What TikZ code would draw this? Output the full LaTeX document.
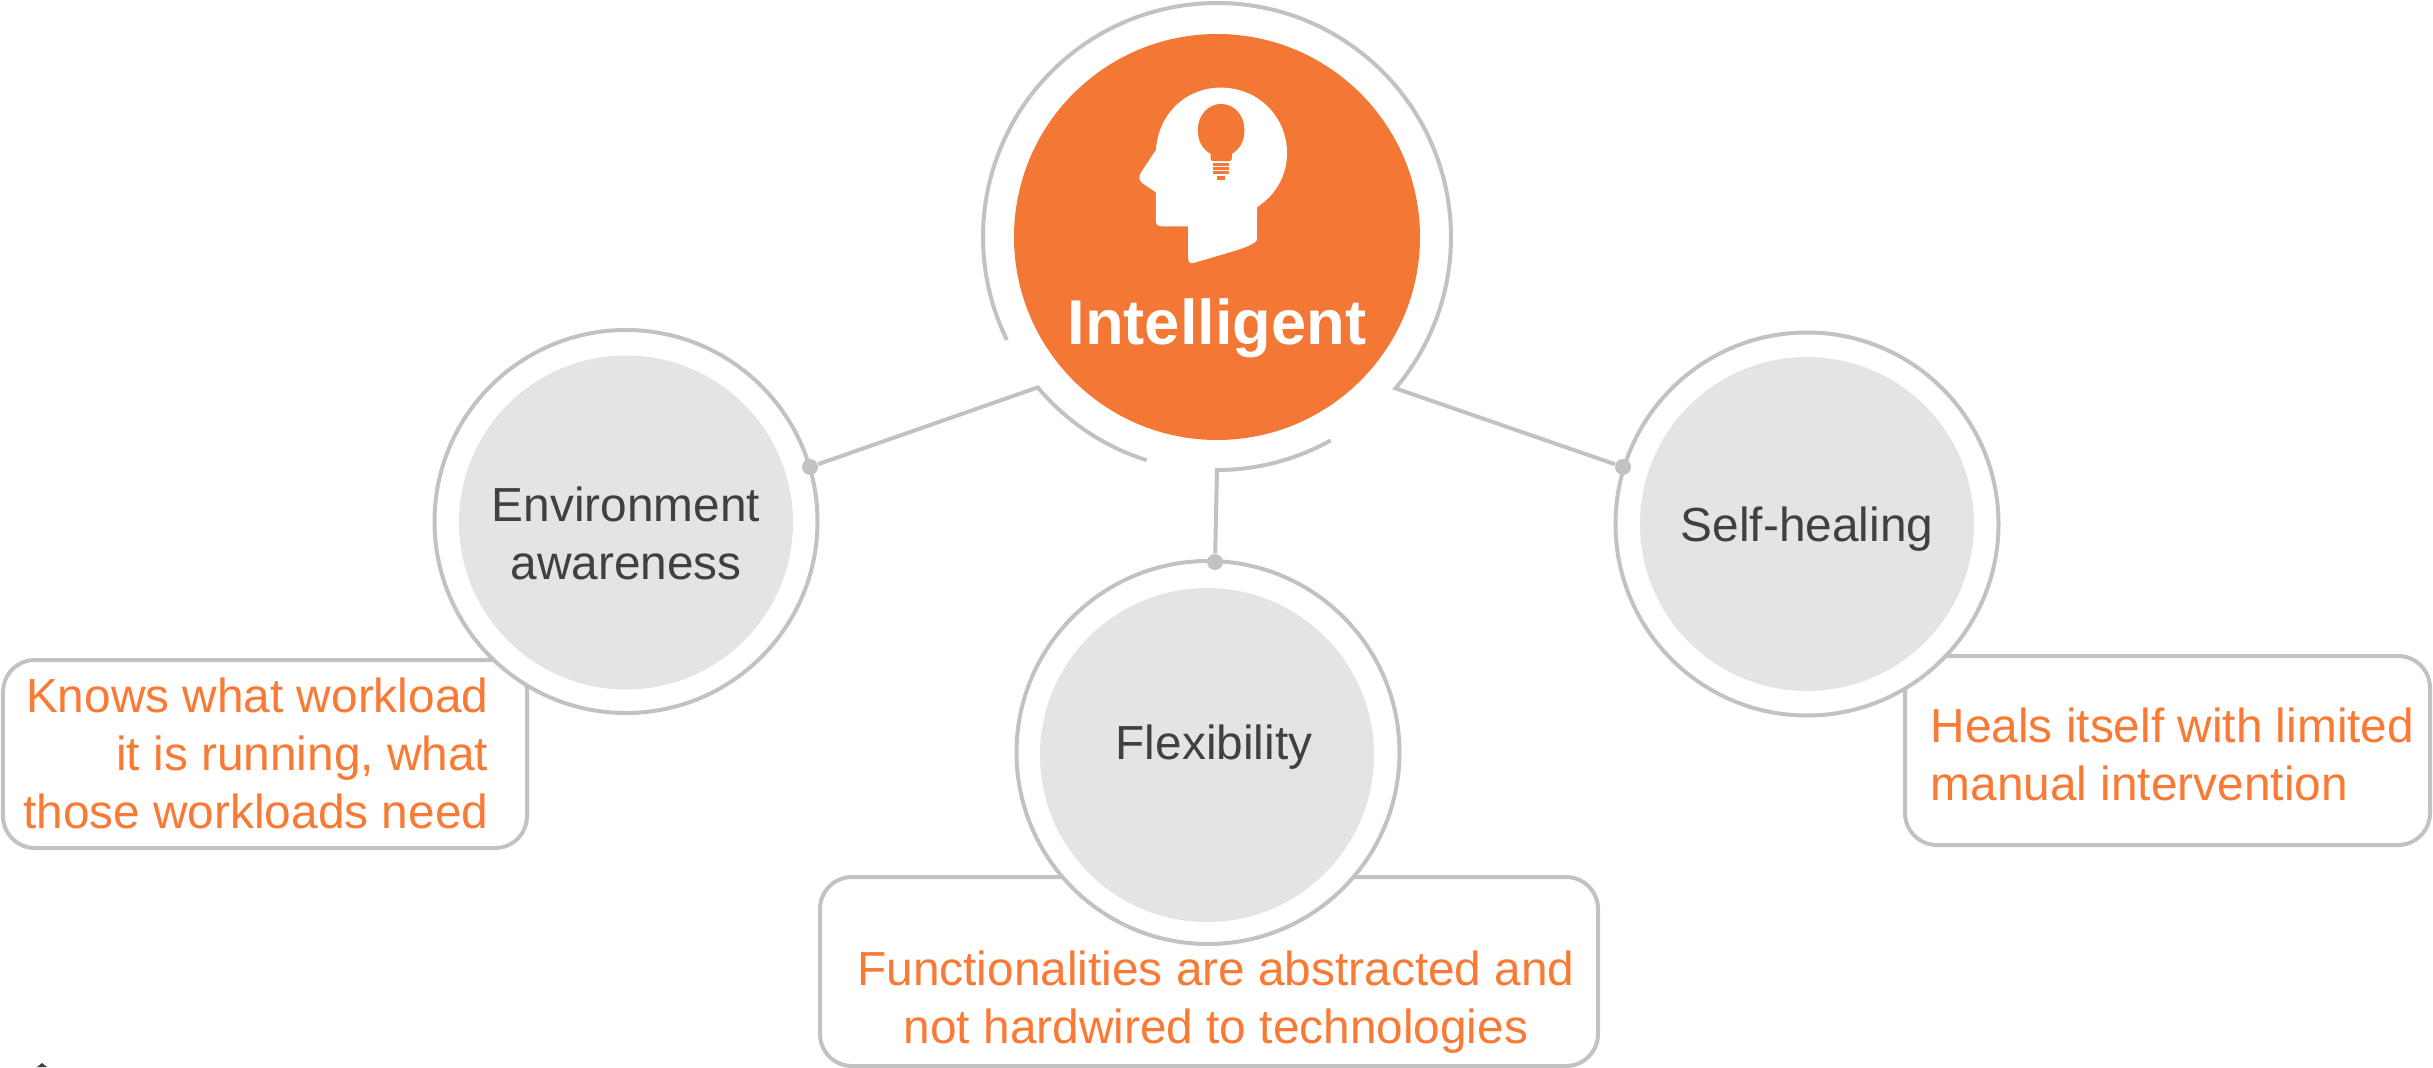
\documentclass[tikz,border=0pt]{standalone}
\usepackage{fontspec}
\setmainfont{Liberation Sans}
\usetikzlibrary{positioning}
\definecolor{mainorange}{HTML}{F37735}
\definecolor{textorange}{HTML}{F97A35}
\definecolor{ringgray}{HTML}{C2C2C2}
\definecolor{discgray}{HTML}{E4E4E4}
\definecolor{labelgray}{HTML}{404040}

\begin{document}
\begin{tikzpicture}[ringnode/.style={circle, draw=ringgray, line width=0.04cm, fill=white, minimum size=3.83cm, inner sep=0pt},
  discnode/.style={circle, fill=discgray, minimum size=3.34cm, inner sep=0pt},
  boxnode/.style={rectangle, rounded corners=0.32cm, draw=ringgray, line width=0.04cm, fill=white, inner sep=0pt},
  dotnode/.style={circle, fill=ringgray, minimum size=0.16cm, inner sep=0pt},
  labelnode/.style={font=\fontsize{13.6}{16.5}\selectfont, text=labelgray, align=center, inner sep=0pt},
  boxtext/.style={font=\fontsize{13.6}{16.5}\selectfont, text=textorange, inner sep=0pt},
  wire/.style={draw=ringgray, line width=0.04cm}]

  \useasboundingbox (0,0) rectangle (24.33,10.67);

  \node[circle, fill=mainorange, minimum size=4.06cm, inner sep=0pt] (main) at (12.17,8.30) {};
  \node[font=\fontsize{18}{20}\selectfont\bfseries, text=white, inner sep=0pt, anchor=base] (title) at (12.17,7.23) {Intelligent};

  \node[boxnode, minimum width=5.24cm, minimum height=1.88cm] (envbox) at (2.65,3.13) {};
  \node[boxnode, minimum width=7.78cm, minimum height=1.89cm] (flexbox) at (12.09,0.955) {};
  \node[boxnode, minimum width=5.25cm, minimum height=1.89cm] (selfbox) at (21.675,3.165) {};

  \node[ringnode] (envring) [on grid, below left = 2.845cm and 5.91cm of main]{};
  \node[ringnode] (flexring) [on grid, below left = 5.155cm and 0.09cm of main]{};
  \node[ringnode] (selfring) [on grid, below right = 2.87cm and 5.90cm of main]{};
  \node[discnode] (envdisc) at ([yshift=-0.01cm]envring) {};
  \node[discnode] (flexdisc) at ([xshift=-0.01cm,yshift=-0.025cm]flexring) {};
  \node[discnode] (selfdisc) at (selfring) {};

  \node[labelnode, anchor=base] (envlabel) at (6.26,4.88) {Environment\\awareness};
  \node[labelnode, anchor=base] (flexlabel) at (12.14,3.075) {Flexibility};
  \node[labelnode, anchor=base] (selflabel) at (18.07,5.26) {Self-healing};

  \node[boxtext, align=right, anchor=east] (envtext) at (4.89,3.14) {Knows what workload\\it is running, what\\those workloads need};
  \node[boxtext, align=center, anchor=north] (flextext) at (12.16,1.17) {Functionalities are abstracted and\\not hardwired to technologies};
  \node[boxtext, align=left, anchor=west] (selftext) at (19.30,3.125) {Heals itself with limited\\manual intervention};

  \node[dotnode] (envdot) at (8.10,6.00) {};
  \node[dotnode] (flexdot) at (12.15,5.05) {};
  \node[dotnode] (selfdot) at (16.23,6.00) {};
  \coordinate (envjoin) at ([shift={(220:2.34)}]main.center);
  \coordinate (flexjoin) at ([shift={(-90:2.33)}]main.center);
  \coordinate (selfjoin) at ([shift={(-40.3:2.34)}]main.center);

  \draw[wire] (envdot) -- (envjoin) arc[start angle=220, end angle=252.5, radius=2.34cm];
  \draw[wire] (flexdot) -- (flexjoin) arc[start angle=-90, end angle=-60.8, radius=2.33cm];
  \draw[wire] (selfdot) -- (selfjoin) arc[start angle=-40.3, end angle=206.1, radius=2.34cm];

  \begin{scope}[shift={(11.30cm,9.97cm)}, x=0.00333cm, y=-0.00333cm]
    \fill[white] (382,412) .. controls (440,375) and (472,315) .. (472,250)
      .. controls (472,140) and (385,53) .. (273,53)
      .. controls (165,53) and (85,135) .. (78,240)
      -- (32,310) .. controls (25,322) and (28,333) .. (37,340)
      -- (78,368) -- (78,455) .. controls (78,465) and (85,470) .. (95,470)
      -- (175,470) -- (175,568) .. controls (175,578) and (183,583) .. (192,580)
      -- (300,548) .. controls (340,536) and (365,528) .. (381,513) -- cycle;
    \fill[mainorange] (242,252) -- (242,266) .. controls (242,271) and (245,274) .. (250,274)
      -- (298,274) .. controls (303,274) and (306,271) .. (306,266) -- (306,252)
      .. controls (330,238) and (344,215) .. (344,180)
      .. controls (344,135) and (312,102) .. (274,102)
      .. controls (236,102) and (204,135) .. (204,180)
      .. controls (204,215) and (218,238) .. (242,252) -- cycle;
    \fill[mainorange] (250,281) rectangle (298,288);
    \fill[mainorange] (250,293) rectangle (298,300);
    \fill[mainorange] (250,305) rectangle (298,313);
    \fill[mainorange] (262,320) rectangle (286,330);
  \end{scope}

  \fill[labelgray] (0.42,0.04) -- (0.37,0) -- (0.47,0) -- cycle;
\end{tikzpicture}
\end{document}
